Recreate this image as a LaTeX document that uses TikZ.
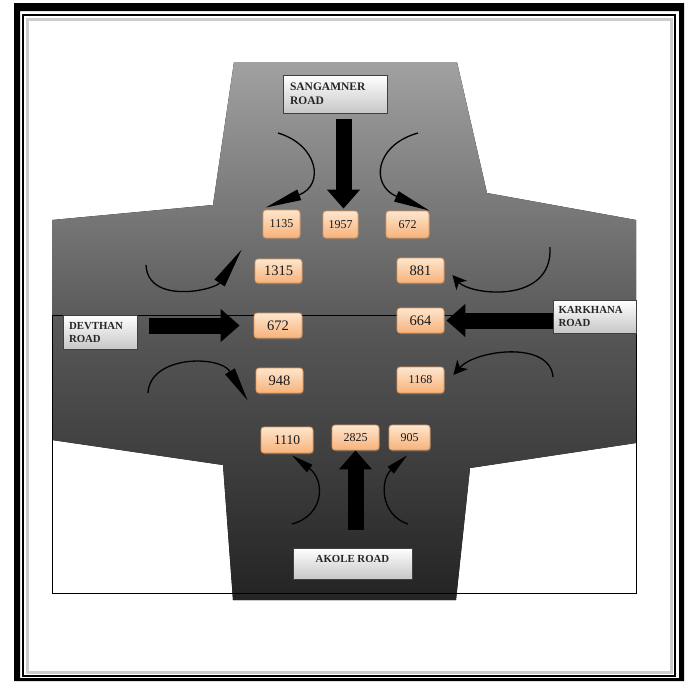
\documentclass[tikz,border=0pt]{standalone}
\usepackage{fontspec}
\setmainfont{Liberation Serif}
\usetikzlibrary{positioning,calc,arrows.meta,shadows}

\definecolor{boxtop}{HTML}{FDE6CE}
\definecolor{boxbot}{HTML}{F8B27A}
\definecolor{boxline}{HTML}{DE9658}

\tikzset{
	roadbox/.style={draw=black!75, line width=1pt, top color=white, bottom color=black!22,
		align=left, inner sep=3pt, text=black!85, font=\bfseries\fontsize{10.8}{13}\selectfont},
	count/.style={draw=boxline, line width=0.8pt, rounded corners=3pt, top color=boxtop,
		bottom color=boxbot, inner sep=0pt, text=black!90,
		drop shadow={opacity=0.35, shadow xshift=0.8pt, shadow yshift=-1.5pt}},
	countsm/.style={count, font=\fontsize{12}{13}\selectfont},
	countlg/.style={count, font=\fontsize{14.5}{15}\selectfont},
	bigarrow/.style={line width=16pt, -{Triangle[length=19pt,width=32pt]}},
	turn/.style={line width=1.3pt},
}

\begin{document}
\begin{tikzpicture}[x=1pt, y=-1pt]
	\useasboundingbox (0,0) rectangle (691,681);

	% frame
	\fill[black, even odd rule] (14,3) rectangle (684,681) (20,11) rectangle (679,678);
	\draw[black!20, line width=3pt] (27,19) rectangle (671,672);
	\draw[line width=1.8pt] (23,15) rectangle (675,676);

	% junction
	\fill[top color=black!37, bottom color=black!86, middle color=black!66]
		(234,62) -- (457,62) -- (487,193) -- (636,220) -- (636,443) -- (470,468)
		-- (456,600) -- (233,600) -- (223,465) -- (52,440) -- (52,220) -- (213,205) -- cycle;
	\draw[line width=1pt] (52,315) rectangle (636,593);

	% roads
	\node[roadbox, minimum width=104pt, minimum height=38pt, text width=90pt,
		font=\bfseries\fontsize{11.5}{14}\selectfont] (sang) at (335,94) {SANGAMNER\\ROAD};
	\node[roadbox, minimum width=74pt, minimum height=34pt, text width=62pt] (dev) at (100,332) {DEVTHAN\\ROAD};
	\node[roadbox, minimum width=83pt, minimum height=33pt, text width=72pt] (kar) at (594.5,316.5) {KARKHANA\\ROAD};
	\node[roadbox, minimum width=119pt, align=center, text height=11pt, text depth=14pt] (ak) at (352.5,563.5) {AKOLE ROAD};

	% counts
	\node[countsm, minimum width=37pt, minimum height=28pt] (n1135) at (281.5,224) {1135};
	\node[countsm, minimum width=35pt, minimum height=27pt] (n1957) at (340.5,224.5) {1957};
	\node[countsm, minimum width=43pt, minimum height=27pt] (n672t) at (407.5,224.5) {672};
	\node[countlg, minimum width=47pt, minimum height=24pt] (n1315) at (278.5,271) {1315};
	\node[countlg, minimum width=47pt, minimum height=25pt] (n881) at (420.5,270.5) {881};
	\node[countlg, minimum width=48pt, minimum height=25pt] (n672m) at (278,325.5) {672};
	\node[countlg, minimum width=47pt, minimum height=25pt] (n664) at (420.5,320.5) {664};
	\node[countlg, minimum width=47pt, minimum height=25pt] (n948) at (279.5,380.5) {948};
	\node[countsm, minimum width=47pt, minimum height=26pt] (n1168) at (420.5,380) {1168};
	\node[count, font=\fontsize{13.5}{14}\selectfont, minimum width=52pt, minimum height=26pt] (n1110) at (287,440) {1110};
	\node[countsm, minimum width=47pt, minimum height=25pt] (n2825) at (355.5,437.5) {2825};
	\node[countsm, minimum width=41pt, minimum height=25pt] (n905) at (409.5,437.5) {905};

	% through traffic
	\draw[bigarrow, shorten <=5pt, shorten >=2pt] ([xshift=3pt]n1957.north |- sang.south) -- ([xshift=3pt]n1957.north);
	\draw[bigarrow, shorten <=11pt, shorten >=14pt] (dev.east |- n672m.west) -- (n672m.west);
	\draw[bigarrow, shorten >=2pt] (kar.west |- n664.east) -- (n664.east);
	\draw[bigarrow, shorten <=18pt] (n2825.south |- ak.north) -- (n2825.south);

	% turning traffic
	\coordinate (s1135) at (278,133);
	\coordinate (s672) at (418,133);
	\coordinate (s1315) at (146,265);
	\coordinate (s948) at (148,393);
	\coordinate (s881) at (550,247);
	\coordinate (s1168) at (553,377);
	\coordinate (s1110) at (292,524);
	\coordinate (s905) at (408,524);

	\draw[turn, -{Triangle[length=36pt,width=11pt]}] (s1135) .. controls (318,145) and (325,185) .. ([shift={(3,-2)}]n1135.north west);
	\draw[turn, -{Triangle[length=36pt,width=11pt]}] (s672) .. controls (375,145) and (370,185) .. (n672t.north east);
	\draw[turn, -{Triangle[length=40pt,width=12pt]}] (s1315) .. controls (148,305) and (215,290) .. ([shift={(-13,-9)}]n1315.north west);
	\draw[turn, -{Triangle[length=34pt,width=11pt]}] (s948) .. controls (150,355) and (220,355) .. ([shift={(-8,7)}]n948.south west);
	\draw[turn, -{Stealth[length=14pt,width=14pt,inset=4pt]}] (s881) .. controls (553,305) and (470,295) .. ([shift={(8,4.5)}]n881.east);
	\draw[turn, -{Stealth[length=14pt,width=14pt,inset=4pt]}] (s1168) .. controls (550,340) and (475,350) .. ([shift={(9,-5)}]n1168.east);
	\draw[turn, -{Triangle[length=22pt,width=9pt]}] (s1110) .. controls (325,515) and (325,480) .. ([shift={(5,2)}]n1110.south);
	\draw[turn, -{Triangle[length=22pt,width=9pt]}] (s905) .. controls (380,515) and (380,480) .. ([shift={(-2.5,5)}]n905.south);
\end{tikzpicture}
\end{document}
